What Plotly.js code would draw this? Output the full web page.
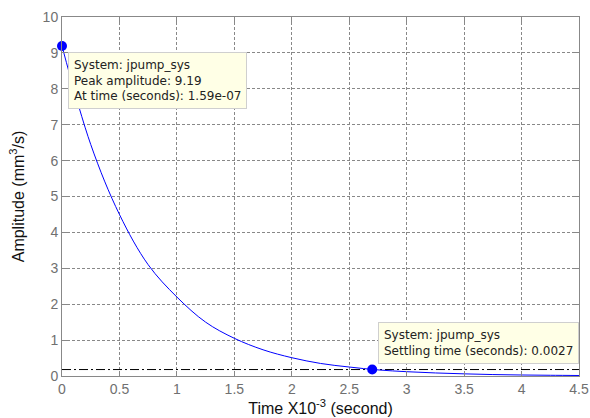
<!DOCTYPE html>
<html><head><meta charset="utf-8">
<script src="https://cdn.plot.ly/plotly-3.0.1.min.js"></script>
<style>html,body{margin:0;padding:0;background:#fff}#c{width:590px;height:418px}</style>
</head><body><div id="c"></div>
<script>
// Impulse response (time in ms, amplitude in mm^3/s)
var timeMs = [0, 0.25, 0.5, 0.75, 1.0, 1.25, 1.5, 1.75, 2.0, 2.25, 2.5, 2.75, 3.0, 3.25, 3.5, 3.75, 4.0, 4.25, 4.5];
var amplitude = [9.19, 6.45, 4.5, 3.1, 2.2, 1.5, 1.05, 0.73, 0.51, 0.35, 0.25, 0.17, 0.12, 0.085, 0.06, 0.04, 0.028, 0.02, 0.014];
var peakPoint = {t: [0], y: [9.19]};
var settlePoint = {t: [2.7], y: [0.18]};
var settleBand = {t: [0, 4.5], y: [0.18, 0.18]};
var xTicks = [0, 0.5, 1, 1.5, 2, 2.5, 3, 3.5, 4, 4.5];
var yTicks = [0, 1, 2, 3, 4, 5, 6, 7, 8, 9, 10];

var traces = [
  {x: settleBand.t, y: settleBand.y, mode: 'lines', line: {color: '#000', width: 1, dash: '9px,3px,2px,3px'}, hoverinfo: 'skip'},
  {x: timeMs, y: amplitude, mode: 'lines', line: {color: '#0000ff', width: 1, shape: 'spline'}},
  {x: peakPoint.t, y: peakPoint.y, mode: 'markers', marker: {color: '#0000ff', size: 10}, cliponaxis: false},
  {x: settlePoint.t, y: settlePoint.y, mode: 'markers', marker: {color: '#0000ff', size: 10}, cliponaxis: false}
];

var tickFont = {family: 'Arial, Liberation Sans, sans-serif', size: 14, color: '#707070'};
var annFont = {family: 'DejaVu Sans, sans-serif', size: 12, color: '#222'};
var layout = {
  width: 590, height: 418, showlegend: false,
  paper_bgcolor: '#fff', plot_bgcolor: '#fff',
  margin: {l: 62, r: 11, t: 17, b: 42},
  font: {family: 'Arial, Liberation Sans, sans-serif'},
  xaxis: {range: [0, 4.5], tickvals: xTicks, ticktext: xTicks.map(String), showgrid: true, gridcolor: '#888', griddash: '3px,2px', gridwidth: 1,
    showline: true, mirror: 'ticks', linecolor: '#888', linewidth: 1, zeroline: false, ticks: 'inside', ticklen: 5, tickcolor: '#888', tickfont: tickFont,
    title: {text: 'Time X10<sup>-3</sup> (second)', font: {size: 16, color: '#111'}, standoff: 4}},
  yaxis: {range: [0, 10], tickvals: yTicks, showgrid: true, gridcolor: '#888', griddash: '3px,2px', gridwidth: 1,
    showline: true, mirror: 'ticks', linecolor: '#888', linewidth: 1, zeroline: false, ticks: 'inside', ticklen: 5, tickcolor: '#888', tickfont: tickFont,
    title: {text: 'Amplitude (mm<sup>3</sup>/s)', font: {size: 16, color: '#111'}, standoff: 14}},
  annotations: [
    {x: 0.05, y: 9.02, xref: 'x', yref: 'y', xanchor: 'left', yanchor: 'top', align: 'left', showarrow: false,
     text: 'System: jpump_sys<br>Peak amplitude: 9.19<br>At time (seconds): 1.59e-07',
     font: annFont, bgcolor: '#ffffe6', bordercolor: '#cfcfcf', borderwidth: 1, borderpad: 5},
    {x: 2.75, y: 1.5, xref: 'x', yref: 'y', xanchor: 'left', yanchor: 'top', align: 'left', showarrow: false,
     text: 'System: jpump_sys<br>Settling time (seconds): 0.0027',
     font: annFont, bgcolor: '#ffffe6', bordercolor: '#cfcfcf', borderwidth: 1, borderpad: 5}
  ]
};
Plotly.newPlot('c', traces, layout, {displayModeBar: false, staticPlot: true});
</script></body></html>
